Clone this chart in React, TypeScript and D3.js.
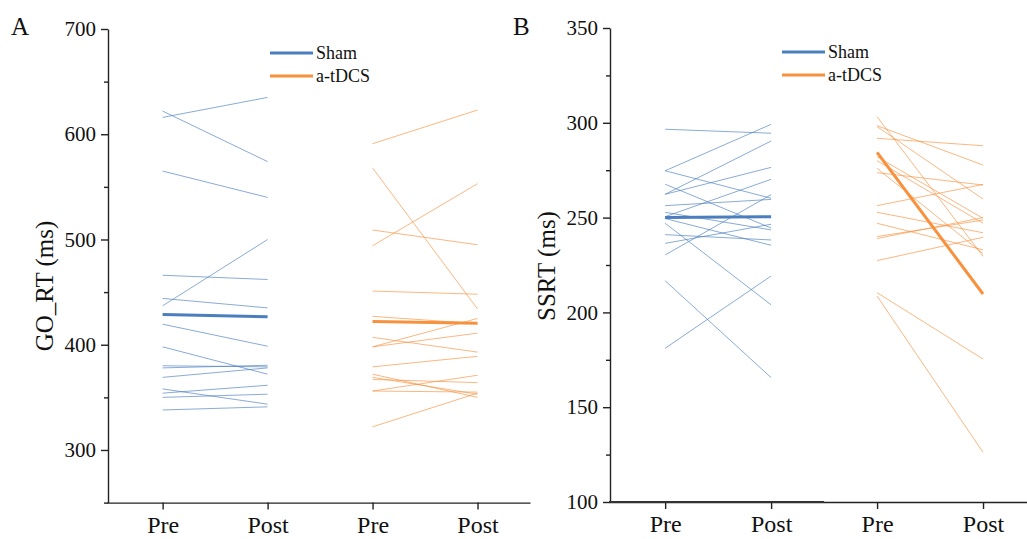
import React, { useRef, useEffect } from 'react';
import * as d3 from 'd3';

// x categories
const conditions = ['Pre', 'Post', 'Pre', 'Post'];

// Panel A: GO_RT (ms)
const goShamPre = [616, 622, 565, 437, 466, 444, 419.5, 398, 380, 378, 369, 358, 354, 350, 338];
const goShamPost = [635, 574, 540, 500, 462, 435, 398.6, 372, 379, 380.5, 378, 343.5, 361.5, 353, 341];
const goShamMean = [428.7, 426.5];
const goTdcsPre = [591, 568, 509, 494, 451, 427, 398, 407, 398, 379, 372, 369, 367, 356, 356, 322];
const goTdcsPost = [623, 434, 495, 553, 448, 420, 425, 393, 411, 389, 350, 353, 364, 371, 355, 354];
const goTdcsMean = [422, 420.5];
const goTicks = [300, 400, 500, 600, 700];
const goMinor = [250, 350, 450, 550, 650];

// Panel B: SSRT (ms)
const ssrtShamPre = [296.6, 274.7, 274.7, 267.6, 262.3, 262.3, 256.3, 252.8, 250.5, 249.5, 247, 241, 236.4, 230.3, 216.7, 181.1];
const ssrtShamPost = [294.5, 299.2, 260.2, 244.5, 290.4, 276.5, 259.6, 243.5, 270.2, 235.4, 204, 238.2, 246.5, 262.1, 165.6, 219.2];
const ssrtShamMean = [250, 250.5];
const ssrtTdcsPre = [303.2, 298.5, 298, 291.8, 282.1, 280, 276, 273.7, 256.3, 252.8, 247, 240, 239, 227.3, 210.4, 208.6];
const ssrtTdcsPost = [229.6, 277.7, 259.8, 287.9, 249.6, 247, 231, 267.2, 267.5, 242, 233, 248.7, 250, 239.6, 175.4, 126.2];
const ssrtTdcsMean = [284.4, 209.7];
const ssrtTicks = [100, 150, 200, 250, 300, 350];
const ssrtMinor = [125, 175, 225, 275, 325];

const groups = ['Sham', 'a-tDCS'];

const BLUE = '#4a7ebf';
const ORANGE = '#f7913d';
const FONT = '"Liberation Serif", "Times New Roman", serif';

type PanelCfg = {
  letter: string;
  title: string;
  xRange: [number, number];
  yDomain: [number, number];
  yRange: [number, number];
  ticks: number[];
  minor: number[];
  shamPre: number[];
  shamPost: number[];
  shamMean: number[];
  tdcsPre: number[];
  tdcsPost: number[];
  tdcsMean: number[];
  titleY: number;
  legendX: number;
  legendY: number;
};

const App: React.FC = () => {
  const ref = useRef<SVGSVGElement>(null);

  useEffect(() => {
    const svg = d3.select(ref.current);
    svg.selectAll('*').remove();

    const panels: PanelCfg[] = [
      {
        letter: 'A', title: 'GO_RT (ms)', xRange: [107, 530], yDomain: [250, 700], yRange: [502.6, 29],
        ticks: goTicks, minor: goMinor,
        shamPre: goShamPre, shamPost: goShamPost, shamMean: goShamMean,
        tdcsPre: goTdcsPre, tdcsPost: goTdcsPost, tdcsMean: goTdcsMean,
        titleY: 286, legendX: 270, legendY: 53,
      },
      {
        letter: 'B', title: 'SSRT (ms)', xRange: [609, 1036], yDomain: [100, 350], yRange: [502, 28],
        ticks: ssrtTicks, minor: ssrtMinor,
        shamPre: ssrtShamPre, shamPost: ssrtShamPost, shamMean: ssrtShamMean,
        tdcsPre: ssrtTdcsPre, tdcsPost: ssrtTdcsPost, tdcsMean: ssrtTdcsMean,
        titleY: 266, legendX: 782, legendY: 52,
      },
    ];

    panels.forEach((p, pi) => {
      const x = d3.scaleLinear().domain([0.47, 4.5]).range(p.xRange);
      const y = d3.scaleLinear().domain(p.yDomain).range(p.yRange);
      const g = svg.append('g');
      const axX = p.xRange[0] + 1;

      const line = d3.line<[number, number]>().x(d => x(d[0])).y(d => y(d[1]));

      const drawGroup = (pre: number[], post: number[], mean: number[], color: string, xi: number) => {
        pre.forEach((v, i) => {
          g.append('path')
            .attr('d', line([[xi, v], [xi + 1, post[i]]]))
            .attr('fill', 'none')
            .attr('stroke', color)
            .attr('stroke-opacity', 0.65)
            .attr('stroke-width', 1);
        });
        g.append('path')
          .attr('d', line([[xi, mean[0]], [xi + 1, mean[1]]]))
          .attr('fill', 'none')
          .attr('stroke', color)
          .attr('stroke-width', 3);
      };
      drawGroup(p.shamPre, p.shamPost, p.shamMean, BLUE, 1);
      drawGroup(p.tdcsPre, p.tdcsPost, p.tdcsMean, ORANGE, 3);

      // y axis
      const yAx = g.append('g').attr('transform', `translate(${axX},0)`)
        .call(d3.axisLeft(y).tickValues(p.ticks).tickSize(7).tickSizeOuter(0).tickPadding(5).tickFormat(d3.format('d')));
      const yMinor = g.append('g').attr('transform', `translate(${axX},0)`)
        .call(d3.axisLeft(y).tickValues(p.minor).tickSize(4).tickSizeOuter(0).tickFormat(() => ''));
      yMinor.select('.domain').remove();

      // x axis
      const xAx = g.append('g').attr('transform', `translate(0,${p.yRange[0]})`)
        .call(d3.axisBottom(x).tickValues([1, 2, 3, 4]).tickSize(7).tickSizeOuter(0).tickPadding(6)
          .tickFormat((_d, i) => conditions[i]));
      if (pi === 1) {
        g.append('line')
          .attr('x1', x(0.47)).attr('x2', x(2.5))
          .attr('y1', p.yRange[0]).attr('y2', p.yRange[0])
          .attr('stroke', '#333').attr('stroke-width', 2);
      }

      [yAx, yMinor, xAx].forEach(a => {
        a.selectAll('path, line').attr('stroke', '#222').attr('stroke-width', 1.4);
        a.selectAll('text').attr('font-family', FONT).attr('font-size', 21).attr('fill', '#111');
      });
      xAx.selectAll('text').attr('font-size', 24);

      // axis title
      g.append('text')
        .attr('transform', `translate(${axX - 55},${p.titleY}) rotate(-90)`)
        .attr('text-anchor', 'middle')
        .attr('font-family', FONT).attr('font-size', 25).attr('fill', '#111')
        .text(p.title);

      // panel letter
      g.append('text')
        .attr('x', axX - 97).attr('y', 35)
        .attr('font-family', FONT).attr('font-size', 25).attr('fill', '#111')
        .text(p.letter);

      // legend
      groups.forEach((name, i) => {
        const ly = p.legendY + i * 23;
        g.append('line')
          .attr('x1', p.legendX).attr('x2', p.legendX + 43)
          .attr('y1', ly).attr('y2', ly)
          .attr('stroke', i === 0 ? BLUE : ORANGE).attr('stroke-width', 3);
        g.append('text')
          .attr('x', p.legendX + 46).attr('y', ly + 6)
          .attr('font-family', FONT).attr('font-size', 18).attr('fill', '#111')
          .text(name);
      });
    });
  }, []);

  return (
    <svg ref={ref} width={1027} height={539}
      style={{ position: 'absolute', left: 0, top: 0, background: '#fff' }} />
  );
};

export default App;
